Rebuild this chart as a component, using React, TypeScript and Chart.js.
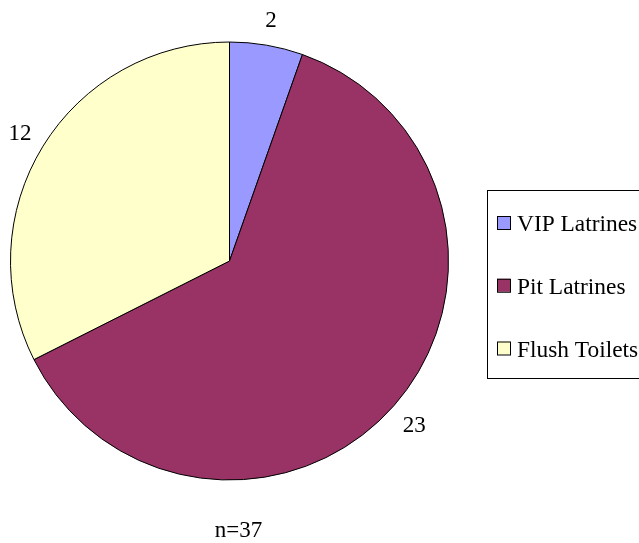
import React, { useEffect, useRef } from "react";
import { Chart, registerables } from "chart.js";

Chart.register(...registerables);

const categories = ["VIP Latrines", "Pit Latrines", "Flush Toilets"];
const values = [2, 23, 12];
const colors = ["#9999FF", "#993366", "#FFFFCC"];
const totalLabel = "n=37";

const FONT = '23px "Liberation Serif"';
const LEGEND_FONT = '23.4px "Liberation Serif"';

const overlayPlugin = {
  id: "overlay",
  afterDraw(chart: any) {
    const ctx = chart.ctx;
    const meta = chart.getDatasetMeta(0);
    ctx.save();
    ctx.fillStyle = "#000";
    ctx.font = FONT;
    ctx.textAlign = "center";
    ctx.textBaseline = "alphabetic";
    let cx = 0;
    meta.data.forEach((arc: any, i: number) => {
      const p = arc.getProps(["x", "y", "startAngle", "endAngle", "outerRadius"], true);
      cx = p.x;
      const mid = (p.startAngle + p.endAngle) / 2;
      const r = p.outerRadius + 27;
      const lx = p.x + Math.cos(mid) * r;
      const ly = p.y + Math.sin(mid) * r;
      ctx.fillText(String(values[i]), lx, ly + 8);
    });
    ctx.fillText(totalLabel, cx + 9, chart.chartArea.bottom + 56);

    const bx = 487.5, by = 190.5, bw = 200, bh = 188;
    ctx.strokeStyle = "#000";
    ctx.lineWidth = 1;
    ctx.strokeRect(bx, by, bw, bh);
    ctx.font = LEGEND_FONT;
    ctx.textAlign = "left";
    const rowH = 62.75;
    categories.forEach((c, i) => {
      const yc = 223 + i * rowH;
      ctx.fillStyle = colors[i];
      ctx.fillRect(497, yc - 7, 13, 13);
      ctx.strokeStyle = "#000";
      ctx.strokeRect(497.5, yc - 6.5, 13, 13);
      ctx.fillStyle = "#000";
      ctx.fillText(c, 517, yc + 8);
    });
    ctx.restore();
  },
};

export default function App() {
  const ref = useRef<HTMLCanvasElement>(null);
  useEffect(() => {
    if (!ref.current) return;
    const chart = new Chart(ref.current, {
      type: "pie",
      data: {
        labels: categories,
        datasets: [
          {
            data: values,
            backgroundColor: colors,
            borderColor: "#000",
            borderWidth: 1,
            hoverOffset: 0,
            offset: 0,
          },
        ],
      },
      options: {
        animation: false,
        responsive: false,
        maintainAspectRatio: false,
        layout: { padding: { left: 10, top: 41.5, right: 190, bottom: 62.5 } },
        plugins: {
          legend: { display: false },
          tooltip: { enabled: false },
          title: { display: false },
        },
      },
      plugins: [overlayPlugin],
    });
    return () => chart.destroy();
  }, []);
  return (
    <div style={{ position: "absolute", left: 0, top: 0, width: 639, height: 543, background: "#fff", overflow: "hidden" }}>
      <canvas ref={ref} width={639} height={543} style={{ display: "block" }} />
    </div>
  );
}
